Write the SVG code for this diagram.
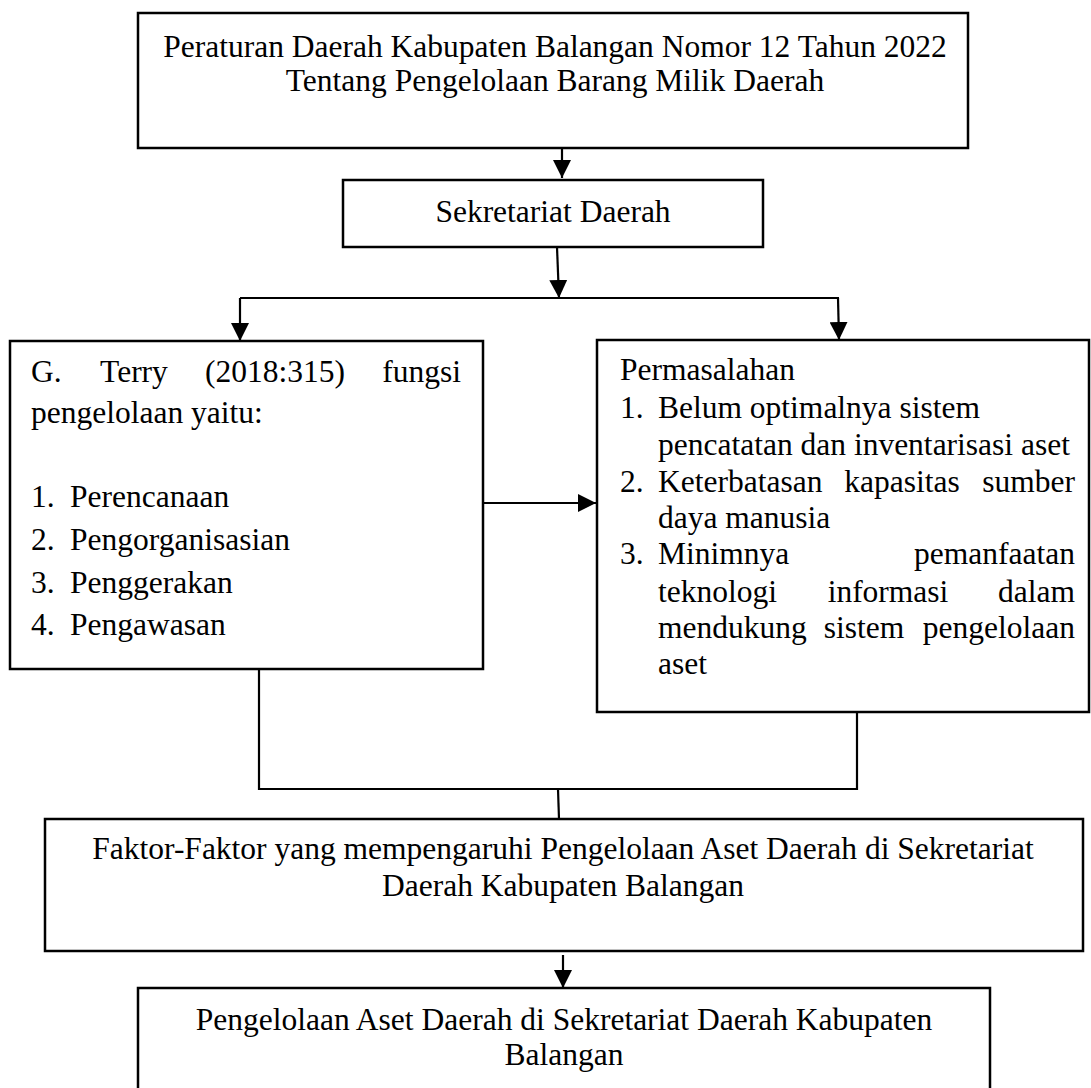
<svg xmlns="http://www.w3.org/2000/svg" width="1091" height="1088" viewBox="0 0 1091 1088">
<defs>
<marker id="arr" markerUnits="userSpaceOnUse" viewBox="0 0 18 18" refX="18" refY="9" markerWidth="18" markerHeight="18" orient="auto">
<path d="M0,0 L18,9 L0,18 z" fill="#000"/>
</marker>
<style>
rect.box{fill:#fff;stroke:#000;stroke-width:2.5}
text{font-family:"Liberation Serif","Times New Roman",serif;font-size:31.5px;fill:#000}
.c{text-anchor:middle}
.e{text-anchor:end}
#connectors line,#connectors polyline{stroke:#000;stroke-width:2.2;fill:none}
</style>
</defs>
<rect width="1091" height="1088" fill="#fff"/>
<g id="connectors">
<line x1="562" y1="148" x2="562" y2="178" marker-end="url(#arr)"/>
<line x1="557" y1="247" x2="559" y2="298" marker-end="url(#arr)"/>
<line x1="240" y1="298" x2="839" y2="298"/>
<line x1="240" y1="298" x2="240" y2="341" marker-end="url(#arr)"/>
<line x1="838" y1="298" x2="839" y2="340" marker-end="url(#arr)"/>
<line x1="483" y1="503" x2="596" y2="503" marker-end="url(#arr)"/>
<polyline points="259,669 259,789 857,789 857,712"/>
<line x1="558" y1="789" x2="559" y2="819"/>
<line x1="563" y1="955" x2="563" y2="988" marker-end="url(#arr)"/>
</g>
<g id="node-peraturan">
<rect class="box" x="138" y="13" width="830" height="135"/>
<text class="c" x="555" y="57">Peraturan Daerah Kabupaten Balangan Nomor 12 Tahun 2022</text>
<text class="c" x="555" y="91">Tentang Pengelolaan Barang Milik Daerah</text>
</g>
<g id="node-sekretariat">
<rect class="box" x="343" y="180" width="420" height="67"/>
<text class="c" x="553" y="222">Sekretariat Daerah</text>
</g>
<g id="node-terry">
<rect class="box" x="10" y="341" width="473" height="328"/>
<text x="31" y="382">G.</text>
<text class="c" x="134" y="382">Terry</text>
<text class="c" x="275" y="382">(2018:315)</text>
<text class="e" x="461" y="382">fungsi</text>
<text x="31" y="423">pengelolaan yaitu:</text>
<text x="31" y="507">1.</text><text x="70" y="507">Perencanaan</text>
<text x="31" y="550">2.</text><text x="70" y="550">Pengorganisasian</text>
<text x="31" y="593">3.</text><text x="70" y="593">Penggerakan</text>
<text x="31" y="635">4.</text><text x="70" y="635">Pengawasan</text>
</g>
<g id="node-permasalahan">
<rect class="box" x="597" y="340" width="492" height="372"/>
<text x="620" y="380">Permasalahan</text>
<text x="620" y="418">1.</text><text x="658" y="418">Belum optimalnya sistem</text>
<text x="658" y="455">pencatatan dan inventarisasi aset</text>
<text x="620" y="492">2.</text><text x="658" y="492">Keterbatasan</text>
<text class="c" x="902" y="492">kapasitas</text>
<text class="e" x="1075" y="492">sumber</text>
<text x="658" y="528">daya manusia</text>
<text x="620" y="564">3.</text><text x="658" y="564">Minimnya</text>
<text class="e" x="1075" y="564">pemanfaatan</text>
<text x="658" y="602">teknologi</text>
<text class="c" x="888" y="602">informasi</text>
<text class="e" x="1075" y="602">dalam</text>
<text x="658" y="638">mendukung</text>
<text class="c" x="864" y="638">sistem</text>
<text class="e" x="1075" y="638">pengelolaan</text>
<text x="658" y="674">aset</text>
</g>
<g id="node-faktor">
<rect class="box" x="45" y="819" width="1038" height="132"/>
<text class="c" x="563" y="859">Faktor-Faktor yang mempengaruhi Pengelolaan Aset Daerah di Sekretariat</text>
<text class="c" x="563" y="896">Daerah Kabupaten Balangan</text>
</g>
<g id="node-pengelolaan">
<rect class="box" x="138" y="988" width="852" height="110"/>
<text class="c" x="564" y="1030">Pengelolaan Aset Daerah di Sekretariat Daerah Kabupaten</text>
<text class="c" x="564" y="1065">Balangan</text>
</g>
</svg>
